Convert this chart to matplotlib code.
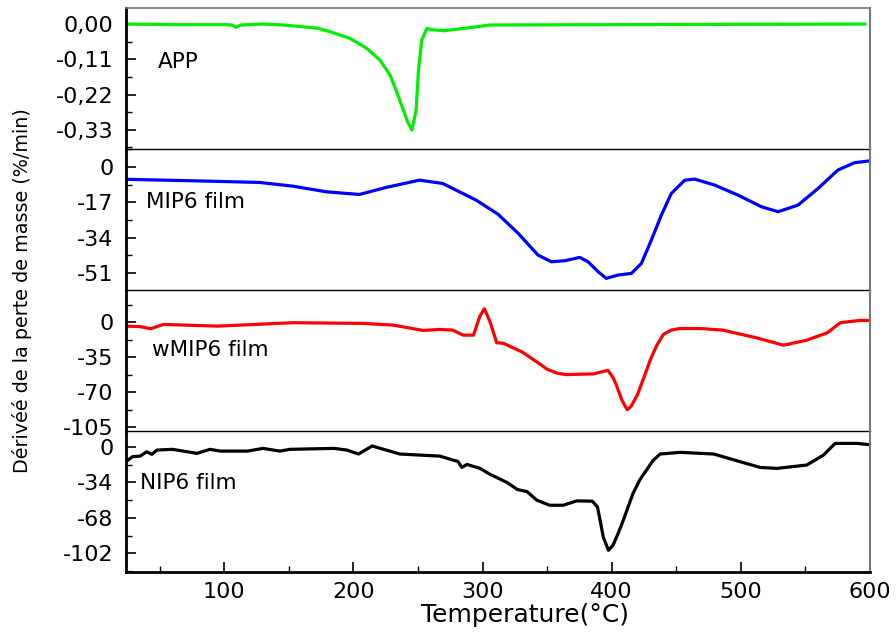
import matplotlib.pyplot as plt
from matplotlib.ticker import MultipleLocator

plt.rcParams['font.family'] = ['DejaVu Sans']

# APP (green)
t_app = [24, 60, 100, 106, 109, 113, 130, 146, 172, 182, 197.5, 210.4, 220.7, 228.5,
         233.7, 238.8, 242, 245.3, 248.6, 250.4, 253, 256.9, 262, 269.8, 285.2, 305.9,
         400, 500, 596]
v_app = [0, -0.002, -0.002, -0.003, -0.01, -0.003, 0, -0.003, -0.013, -0.024, -0.045,
         -0.076, -0.113, -0.160, -0.213, -0.27, -0.305, -0.331, -0.27, -0.145, -0.05,
         -0.014, -0.018, -0.021, -0.014, -0.003, -0.002, -0.001, 0]

# MIP6 film (blue)
t_mip = [24, 75.8, 127.3, 153.2, 179, 204.7, 225.4, 251.2, 269.2, 295, 312, 327.6, 343,
         353.3, 363.7, 375.3, 381.7, 389.5, 395.9, 405, 415.3, 423, 430.7, 438.5, 446.2,
         456.6, 464.3, 479.8, 497.8, 515.9, 528.8, 544.3, 559.8, 575.2, 588.1, 600]
v_mip = [-5.9, -6.6, -7.4, -9.2, -11.9, -13.2, -9.8, -6.3, -7.9, -15.9, -22.7, -31.9,
         -42.4, -45.6, -45.1, -43.5, -45.6, -50.4, -53.6, -52, -51.2, -46.4, -35.2,
         -23.1, -12.7, -6.3, -5.8, -8.7, -13.5, -19.1, -21.5, -18.3, -10.3, -1.4, 2.1, 3.0]

# wMIP6 film (red)
t_wmip = [24, 35, 43, 53, 95, 153, 208, 231, 254, 267, 277, 285, 293, 298, 301.5, 306,
          311, 316, 331, 345, 350, 358, 365, 386, 397, 401, 404, 408, 412, 415, 420, 425,
          430, 435, 440, 446, 453, 470, 486, 512, 533, 551, 567, 577, 592, 600]
v_wmip = [-4, -4.5, -6.6, -2.3, -4, -0.6, -1.3, -3, -8.3, -7.3, -8, -13, -13, 6, 13.4,
          -0.3, -20.6, -21, -30, -42.3, -47, -51, -52.3, -51.6, -48, -55, -64, -78,
          -87.3, -84, -72.3, -55, -37.3, -23, -12.3, -8, -6.3, -6.5, -8, -15.6, -23,
          -18, -10.6, -0.6, 1.7, 1.7]

# NIP6 film (black)
t_nip = [24, 29, 35, 40, 44, 48, 60, 79, 89, 97, 118, 130, 143, 151, 185, 195, 204,
         214.6, 236, 254, 267, 277, 281, 284, 288, 298, 306, 319, 327, 334.5, 342, 352,
         362.5, 373, 385, 389, 391, 393.5, 397.5, 401, 405, 409, 416.5, 422, 427, 432,
         437.5, 453, 479, 499.5, 515, 528, 551, 564, 573, 590, 600]
v_nip = [-14, -9.3, -8.7, -4.5, -7, -2.9, -2.2, -6.1, -2.2, -3.9, -3.9, -1.3, -3.9,
         -2.2, -1.3, -2.9, -6.7, 1, -6.7, -7.9, -8.7, -12.5, -13.8, -19.6, -16.7, -20.5,
         -26.3, -34, -40.8, -42.8, -51, -55.9, -55.9, -51.7, -52, -57.5, -70, -86.4,
         -99.2, -94.4, -83, -70.3, -44.6, -31, -22.1, -13, -6.7, -5.1, -6.7, -14.1,
         -19.6, -20.5, -17.3, -7.7, 3.5, 3.5, 2.2]

panels = [
    ("APP", t_app, v_app, '#00ee00', [0, -0.11, -0.22, -0.33],
     ["0,00", "-0,11", "-0,22", "-0,33"], 0.055, (-0.39, 0.05), (0.043, 0.617)),
    ("MIP6 film", t_mip, v_mip, '#0000ff', [0, -17, -34, -51],
     ["0", "-17", "-34", "-51"], 8.5, (-59.2, 8.7), (0.027, 0.626)),
    ("wMIP6 film", t_wmip, v_wmip, '#ff0000', [0, -35, -70, -105],
     ["0", "-35", "-70", "-105"], 17.5, (-108.5, 32), (0.035, 0.574)),
    ("NIP6 film", t_nip, v_nip, '#000000', [0, -34, -68, -102],
     ["0", "-34", "-68", "-102"], 17, (-120, 15.4), (0.019, 0.63)),
]

fig = plt.figure(figsize=(8.96, 6.33), dpi=100)
W, H = 896, 633
left, right = 126, 870
tops = [8, 149, 290, 431]
h = 141

for i, (name, t, v, col, ticks, labels, minor, ylim, pos) in enumerate(panels):
    ax = fig.add_axes([left / W, 1 - (tops[i] + h) / H, (right - left) / W, h / H])
    ax.patch.set_visible(False)
    ax.plot(t, v, color=col, lw=2.3, solid_joinstyle='round')
    ax.set_xlim(24, 600)
    ax.set_ylim(*ylim)
    ax.set_yticks(ticks)
    ax.set_yticklabels(labels)
    ax.yaxis.set_minor_locator(MultipleLocator(minor))
    ax.tick_params(axis='y', which='major', direction='in', length=7, width=1.2,
                   labelsize=16, pad=9)
    ax.tick_params(axis='y', which='minor', direction='in', length=4, width=1.0)
    ax.text(pos[0], pos[1], name, transform=ax.transAxes, fontsize=15.5,
            va='center', ha='left')
    ax.spines['left'].set_linewidth(2)
    ax.spines['right'].set_color('#777777')
    ax.spines['right'].set_linewidth(1.5)
    if i == 0:
        ax.spines['top'].set_color('#777777')
        ax.spines['top'].set_linewidth(1.2)
    else:
        ax.spines['top'].set_visible(False)
    if i < 3:
        ax.spines['bottom'].set_linewidth(1.0)
        ax.tick_params(axis='x', which='both', bottom=False, labelbottom=False)
    else:
        ax.spines['bottom'].set_linewidth(2)
        ax.set_xticks([100, 200, 300, 400, 500, 600])
        ax.xaxis.set_minor_locator(MultipleLocator(50))
        ax.tick_params(axis='x', which='major', direction='in', length=7, width=1.2,
                       labelsize=16, pad=7)
        ax.tick_params(axis='x', which='minor', direction='in', length=4, width=1.0)
        ax.set_xlabel("Temperature(°C)", fontsize=18, labelpad=1)
        ax.xaxis.label.set_x(0.536)

fig.text(22 / W, 1 - 291 / H, "Dérivéé de la perte de masse (%/min)", rotation=90,
         fontsize=13.8, va='center', ha='center')

fig.savefig("out.png", dpi=100)
